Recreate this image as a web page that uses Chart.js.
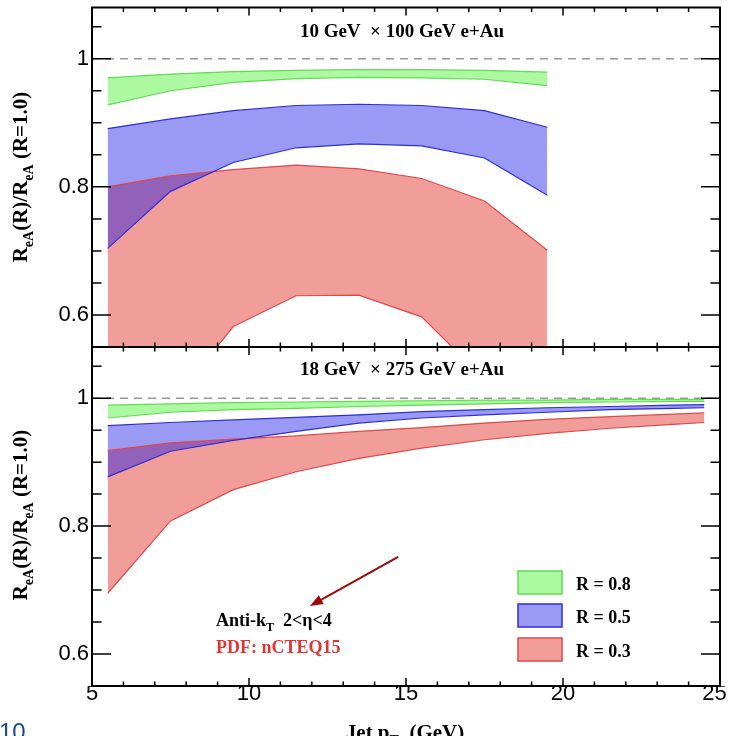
<!DOCTYPE html>
<html>
<head>
<meta charset="utf-8">
<script src="https://cdn.jsdelivr.net/npm/chart.js@4.4.1/dist/chart.umd.min.js"></script>
<style>
  body { margin: 0; background: #fff; width: 729px; height: 736px; overflow: hidden; position: relative; }
  canvas { position: absolute; left: 0; }
</style>
</head>
<body>
<canvas id="topChart" width="729" height="352" style="top:0"></canvas>
<canvas id="bottomChart" width="729" height="394" style="top:342px"></canvas>
<script>
// Jet pT bin centres (GeV)
const ptTop = [5.5, 7.5, 9.5, 11.5, 13.5, 15.5, 17.5, 19.5];
const ptBottom = [5.5, 7.5, 9.5, 11.5, 13.5, 15.5, 17.5, 19.5, 21.5, 23.5, 24.5];

// 10 GeV x 100 GeV: upper / lower edge of each band
const r08TopHi = [0.970, 0.976, 0.980, 0.982, 0.983, 0.983, 0.982, 0.979];
const r08TopLo = [0.928, 0.950, 0.963, 0.969, 0.971, 0.970, 0.968, 0.958];
const r05TopHi = [0.891, 0.906, 0.919, 0.927, 0.929, 0.927, 0.919, 0.893];
const r05TopLo = [0.704, 0.793, 0.838, 0.861, 0.867, 0.864, 0.845, 0.787];
const r03TopHi = [0.800, 0.817, 0.827, 0.834, 0.828, 0.813, 0.778, 0.701];
const r03TopLo = [0.420, 0.460, 0.582, 0.630, 0.631, 0.597, 0.500, 0.420];

// 18 GeV x 275 GeV
const r08BotHi = [0.989, 0.991, 0.993, 0.994, 0.995, 0.996, 0.997, 0.997, 0.998, 0.998, 0.998];
const r08BotLo = [0.969, 0.978, 0.982, 0.984, 0.987, 0.989, 0.991, 0.993, 0.994, 0.995, 0.995];
const r05BotHi = [0.957, 0.962, 0.966, 0.970, 0.974, 0.979, 0.982, 0.985, 0.987, 0.989, 0.990];
const r05BotLo = [0.877, 0.917, 0.934, 0.948, 0.961, 0.969, 0.974, 0.978, 0.982, 0.984, 0.985];
const r03BotHi = [0.918, 0.930, 0.936, 0.941, 0.948, 0.954, 0.961, 0.967, 0.971, 0.975, 0.977];
const r03BotLo = [0.695, 0.808, 0.857, 0.885, 0.906, 0.922, 0.935, 0.945, 0.953, 0.959, 0.962];

const yTickValues = [0.6, 0.8, 1.0];
const xTickValues = [5, 10, 15, 20, 25];
const legendLabels = ['R = 0.8', 'R = 0.5', 'R = 0.3'];
// arrow in data coordinates: [x, y] tail then head
const arrowFrom = [14.75, 0.752];
const arrowTo = [11.94, 0.675];

const colors = {
  r08: { fill: 'rgba(60, 240, 30, 0.42)', line: '#62dc52' },
  r05: { fill: 'rgba(15, 15, 228, 0.42)', line: '#2e2ed8' },
  r03: { fill: 'rgba(225, 40, 30, 0.45)', line: '#e04848' }
};

const SERIF = '"Liberation Serif", "DejaVu Serif", serif';
const SANS = '"Liberation Sans", Arial, sans-serif';

function band(xs, hi, lo, c) {
  const common = { pointRadius: 0, borderWidth: 1.2, tension: 0, borderColor: c.line };
  return [
    { ...common, data: xs.map((x, i) => ({ x, y: hi[i] })), fill: '+1', backgroundColor: c.fill },
    { ...common, data: xs.map((x, i) => ({ x, y: lo[i] })), fill: false }
  ];
}

// text with subscript pieces: parts = [[text, isSub], ...]
function drawRich(ctx, parts, x, y, size, align) {
  let w = 0;
  parts.forEach(([t, sub]) => {
    ctx.font = 'bold ' + (sub ? Math.round(size * 0.68) : size) + 'px ' + SERIF;
    w += ctx.measureText(t).width;
  });
  let cx = align === 'center' ? x - w / 2 : x;
  ctx.textAlign = 'left';
  ctx.textBaseline = 'alphabetic';
  parts.forEach(([t, sub]) => {
    ctx.font = 'bold ' + (sub ? Math.round(size * 0.68) : size) + 'px ' + SERIF;
    ctx.fillText(t, cx, sub ? y + size * 0.3 : y);
    cx += ctx.measureText(t).width;
  });
}

const panelPlugin = {
  id: 'panel',
  beforeDatasetsDraw(chart) {
    const { ctx, chartArea, scales } = chart;
    const y1 = scales.y.getPixelForValue(1);
    ctx.save();
    ctx.strokeStyle = '#999';
    ctx.lineWidth = 1.5;
    ctx.setLineDash([8, 6]);
    ctx.beginPath();
    ctx.moveTo(chartArea.left, y1);
    ctx.lineTo(chartArea.right, y1);
    ctx.stroke();
    ctx.restore();
  },
  afterDraw(chart, args, opts) {
    const { ctx, chartArea: a, scales } = chart;
    ctx.save();
    ctx.strokeStyle = '#000';
    ctx.lineWidth = 1.5;
    ctx.beginPath();
    // inward ticks on all four sides
    for (let k = 11; k <= 21; k++) {
      const py = scales.y.getPixelForValue(k / 20);
      const len = k % 4 === 0 ? 19 : 9.5;
      ctx.moveTo(a.left, py); ctx.lineTo(a.left + len, py);
      ctx.moveTo(a.right, py); ctx.lineTo(a.right - len, py);
    }
    for (let v = 5; v <= 25; v++) {
      const px = scales.x.getPixelForValue(v);
      const len = v % 5 === 0 ? 8 : 4.5;
      ctx.moveTo(px, a.top); ctx.lineTo(px, a.top + len);
      ctx.moveTo(px, a.bottom); ctx.lineTo(px, a.bottom - len);
    }
    ctx.stroke();
    ctx.lineWidth = 2;
    ctx.strokeRect(a.left, a.top, a.right - a.left, a.bottom - a.top);

    ctx.fillStyle = '#000';
    drawRich(ctx, [[opts.title, false]], 402, opts.titleY, 19, 'center');

    // rotated y title
    ctx.save();
    ctx.translate(27, opts.labelY);
    ctx.rotate(-Math.PI / 2);
    drawRich(ctx, [['R', false], ['eA', true], ['(R)/R', false], ['eA', true], [' (R=1.0)', false]], 0, 0, 21, 'center');
    ctx.restore();

    if (opts.extras) opts.extras(chart);
    ctx.restore();
  }
};

function bottomExtras(chart) {
  const { ctx, scales } = chart;
  // legend boxes
  const fills = [colors.r08, colors.r05, colors.r03];
  const boxTops = [229, 262, 296];
  fills.forEach((c, i) => {
    ctx.fillStyle = c.fill;
    ctx.fillRect(518, boxTops[i], 44, 23);
    ctx.strokeStyle = c.line;
    ctx.lineWidth = 1.5;
    ctx.strokeRect(518, boxTops[i], 44, 23);
    ctx.fillStyle = '#000';
    drawRich(ctx, [[legendLabels[i], false]], 576, boxTops[i] + 19, 18, 'left');
  });

  ctx.fillStyle = '#000';
  drawRich(ctx, [['Anti-k', false], ['T', true], ['  2<\u03b7<4', false]], 216, 284, 18, 'left');
  ctx.fillStyle = '#e03535';
  drawRich(ctx, [['PDF: nCTEQ15', false]], 216, 311, 18, 'left');

  // arrow
  const x0 = scales.x.getPixelForValue(arrowFrom[0]), y0 = scales.y.getPixelForValue(arrowFrom[1]);
  const x1 = scales.x.getPixelForValue(arrowTo[0]), y1 = scales.y.getPixelForValue(arrowTo[1]);
  const ang = Math.atan2(y1 - y0, x1 - x0);
  ctx.strokeStyle = '#a00808';
  ctx.fillStyle = '#a00808';
  ctx.lineWidth = 2;
  ctx.beginPath();
  ctx.moveTo(x0, y0);
  ctx.lineTo(x1 - 8 * Math.cos(ang), y1 - 8 * Math.sin(ang));
  ctx.stroke();
  ctx.beginPath();
  ctx.moveTo(x1, y1);
  ctx.lineTo(x1 - 13 * Math.cos(ang) + 5 * Math.sin(ang), y1 - 13 * Math.sin(ang) - 5 * Math.cos(ang));
  ctx.lineTo(x1 - 13 * Math.cos(ang) - 5 * Math.sin(ang), y1 - 13 * Math.sin(ang) + 5 * Math.cos(ang));
  ctx.closePath();
  ctx.fill();

  // x axis title
  ctx.fillStyle = '#000';
  drawRich(ctx, [['Jet p', false], ['T', true], ['  (GeV)', false]], 405, 397, 21, 'center');

  // page number
  ctx.fillStyle = '#1a4b8c';
  ctx.font = '24px ' + SANS;
  ctx.textAlign = 'left';
  ctx.fillText('10', -1, 398);
}

function makePanel(id, bands, panelOpts, showX, padding) {
  return new Chart(document.getElementById(id), {
    type: 'line',
    data: { datasets: bands.flat() },
    options: {
      responsive: false,
      animation: false,
      events: [],
      layout: { padding },
      plugins: {
        legend: { display: false },
        tooltip: { enabled: false },
        filler: { drawTime: 'beforeDatasetsDraw' },
        panel: panelOpts
      },
      scales: {
        x: {
          type: 'linear',
          min: 5,
          max: 25,
          display: showX,
          grid: { display: false, drawTicks: false },
          border: { display: false },
          afterBuildTicks: s => { s.ticks = xTickValues.map(v => ({ value: v })); },
          afterFit: s => {
            s.height = showX ? 50 : 0;
            s.paddingLeft = 0; s.paddingRight = 0;
          },
          ticks: {
            padding: -3,
            color: '#000',
            font: { family: SANS, size: 22, lineHeight: 1 },
            // the last label sits pulled in from the frame edge
            callback: v => (v === 25 ? '25\u2002' : String(v))
          }
        },
        y: {
          type: 'linear',
          min: 0.55,
          max: 1.08,
          grid: { display: false, drawTicks: false },
          border: { display: false },
          afterBuildTicks: s => { s.ticks = yTickValues.map(v => ({ value: v })); },
          afterFit: s => {
            s.width = 88;
            s.paddingTop = 0; s.paddingBottom = 0;
          },
          ticks: {
            padding: 3,
            color: '#000',
            font: { family: SANS, size: 22 },
            callback: v => (v === 1 ? '1' : v.toFixed(1))
          }
        }
      }
    },
    plugins: [panelPlugin]
  });
}

makePanel('topChart', [
  band(ptTop, r08TopHi, r08TopLo, colors.r08),
  band(ptTop, r05TopHi, r05TopLo, colors.r05),
  band(ptTop, r03TopHi, r03TopLo, colors.r03)
], { title: '10 GeV  \u00d7 100 GeV e+Au', titleY: 37, labelY: 177 }, false,
  { left: 4, right: 9, top: 7.5, bottom: 5 });

makePanel('bottomChart', [
  band(ptBottom, r08BotHi, r08BotLo, colors.r08),
  band(ptBottom, r05BotHi, r05BotLo, colors.r05),
  band(ptBottom, r03BotHi, r03BotLo, colors.r03)
], { title: '18 GeV  \u00d7 275 GeV e+Au', titleY: 33, labelY: 173, extras: bottomExtras }, true,
  { left: 4, right: 9, top: 5, bottom: 0 });
</script>
</body>
</html>
